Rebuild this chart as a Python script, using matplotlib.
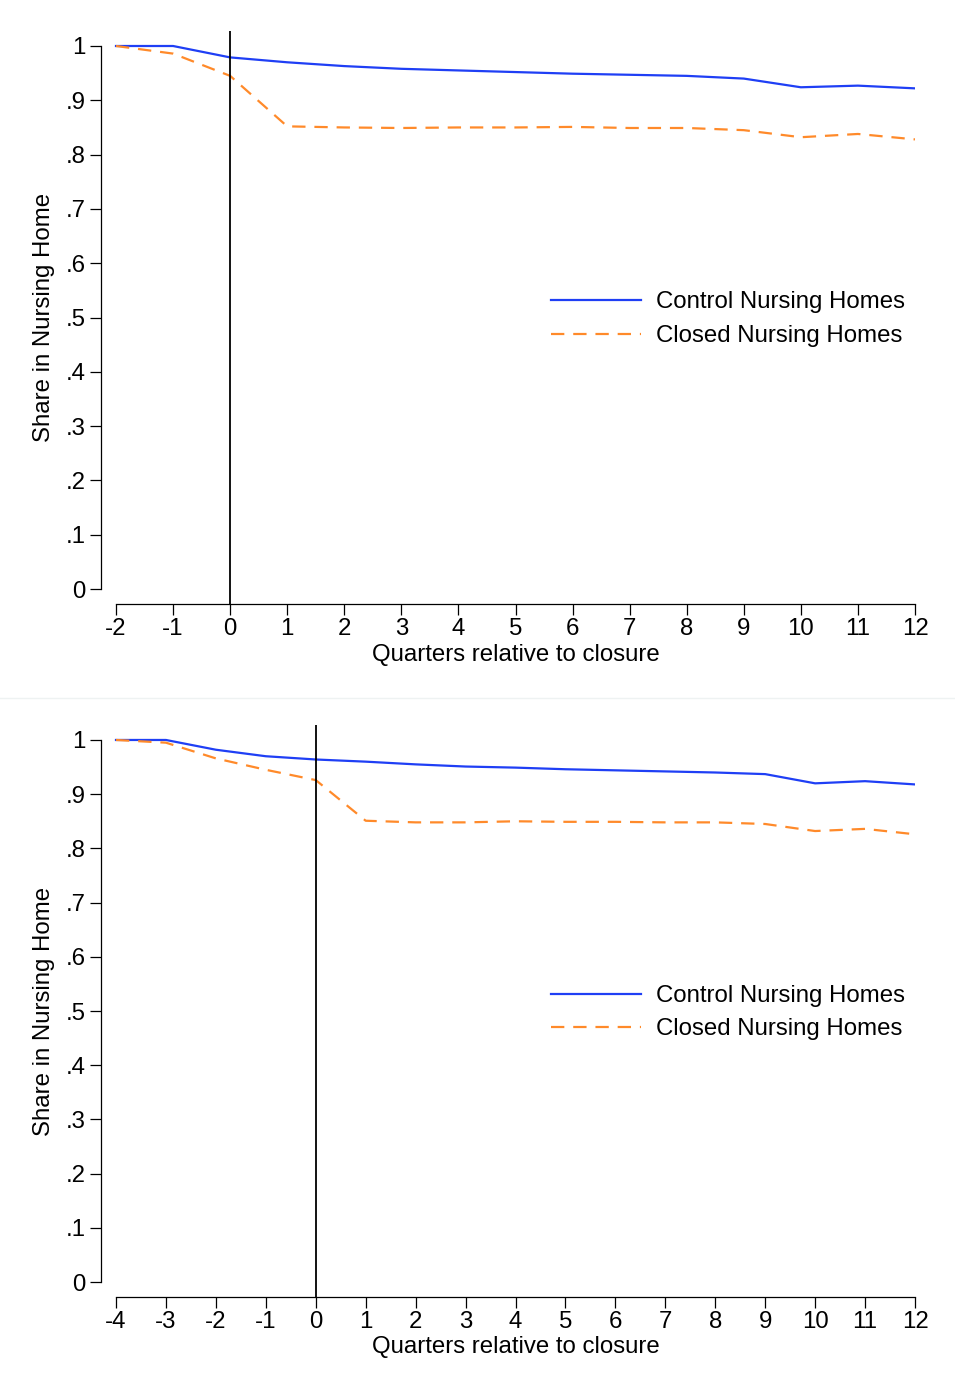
import matplotlib
matplotlib.use("Agg")
import matplotlib.pyplot as plt
from matplotlib.lines import Line2D

plt.rcParams['font.family'] = ['Liberation Sans', 'DejaVu Sans']

# Panel A: quarters -2..12
quarters_a = [-2, -1, 0, 1, 2, 3, 4, 5, 6, 7, 8, 9, 10, 11, 12]
control_a = [1.000, 1.000, 0.979, 0.970, 0.963, 0.958, 0.955, 0.952, 0.949,
             0.947, 0.945, 0.940, 0.924, 0.927, 0.922]
closed_a = [1.000, 0.986, 0.945, 0.852, 0.850, 0.849, 0.850, 0.850, 0.851,
            0.849, 0.849, 0.845, 0.832, 0.838, 0.828]

# Panel B: quarters -4..12
quarters_b = [-4, -3, -2, -1, 0, 1, 2, 3, 4, 5, 6, 7, 8, 9, 10, 11, 12]
control_b = [1.000, 1.000, 0.982, 0.970, 0.964, 0.960, 0.955, 0.951, 0.949,
             0.946, 0.944, 0.942, 0.940, 0.937, 0.920, 0.924, 0.918]
closed_b = [1.000, 0.995, 0.966, 0.945, 0.926, 0.851, 0.848, 0.848, 0.850,
            0.849, 0.849, 0.848, 0.848, 0.845, 0.832, 0.836, 0.826]

y_ticks = [0, 0.1, 0.2, 0.3, 0.4, 0.5, 0.6, 0.7, 0.8, 0.9, 1.0]
y_ticklabels = ["0", ".1", ".2", ".3", ".4", ".5", ".6", ".7", ".8", ".9", "1"]
labels = ["Control Nursing Homes", "Closed Nursing Homes"]

BLUE = "#1f3ff5"
ORANGE = "#ff8a2a"
FS = 17.3

W, H = 955, 1390
fig = plt.figure(figsize=(W / 100, H / 100), dpi=100)


def panel(rect, x, ctrl, clos, xmin, xmax, step_px):
    ax = fig.add_axes(rect)
    ax.plot(x, ctrl, color=BLUE, lw=1.6, solid_joinstyle="round")
    ax.plot(x, clos, color=ORANGE, lw=1.6, dashes=(6, 4))
    ax.axvline(0, color="black", lw=1.3)
    pad_x = 15 / step_px
    ax.set_xlim(xmin - pad_x, xmax)
    ax.set_ylim(-15 / 543, 1 + 15 / 543)
    for s in ("top", "right"):
        ax.spines[s].set_visible(False)
    ax.spines["left"].set_bounds(0, 1)
    ax.spines["bottom"].set_bounds(xmin, xmax)
    ax.spines["left"].set_linewidth(0.9)
    ax.spines["bottom"].set_linewidth(0.9)
    ax.set_xticks(x)
    ax.set_xticklabels([str(v) for v in x], fontsize=FS)
    ax.set_yticks(y_ticks)
    ax.set_yticklabels(y_ticklabels, fontsize=FS)
    ax.tick_params(axis="x", length=8, width=0.9, pad=2)
    ax.tick_params(axis="y", length=8, width=0.9, pad=3)
    ax.set_xlabel("Quarters relative to closure", fontsize=FS)
    # centre the x title under the plotted range rather than the whole axes
    axes_h_px = rect[3] * H
    ax.xaxis.set_label_coords(1 - (xmax - (xmin + xmax) / 2) / (xmax - xmin + pad_x),
                              -39.5 / axes_h_px)
    ax.xaxis.label.set_verticalalignment("top")
    ax.set_ylabel("Share in Nursing Home", fontsize=FS, labelpad=8)
    handles = [Line2D([], [], color=BLUE, lw=1.6),
               Line2D([], [], color=ORANGE, lw=1.6, dashes=(6, 4))]
    ax.legend(handles, labels, loc="center left", frameon=False,
              bbox_to_anchor=((551 - rect[0] * W) / (rect[2] * W) - 0.012, 0.5 - 0.003),
              fontsize=FS, handlelength=3.75, handletextpad=0.62,
              labelspacing=0.48, borderaxespad=0)
    return ax


panel([101 / W, 1 - 604 / H, 814 / W, 573 / H],
      quarters_a, control_a, closed_a, -2, 12, 799 / 14)
panel([101 / W, 1 - 1297 / H, 814 / W, 572 / H],
      quarters_b, control_b, closed_b, -4, 12, 799 / 16)

# Thin divider between the two panels
fig.add_artist(Line2D([0, 1], [1 - 698 / H, 1 - 698 / H],
                      transform=fig.transFigure, color="#eef2f2", lw=1))

fig.savefig("out.png", dpi=100, facecolor="white")
